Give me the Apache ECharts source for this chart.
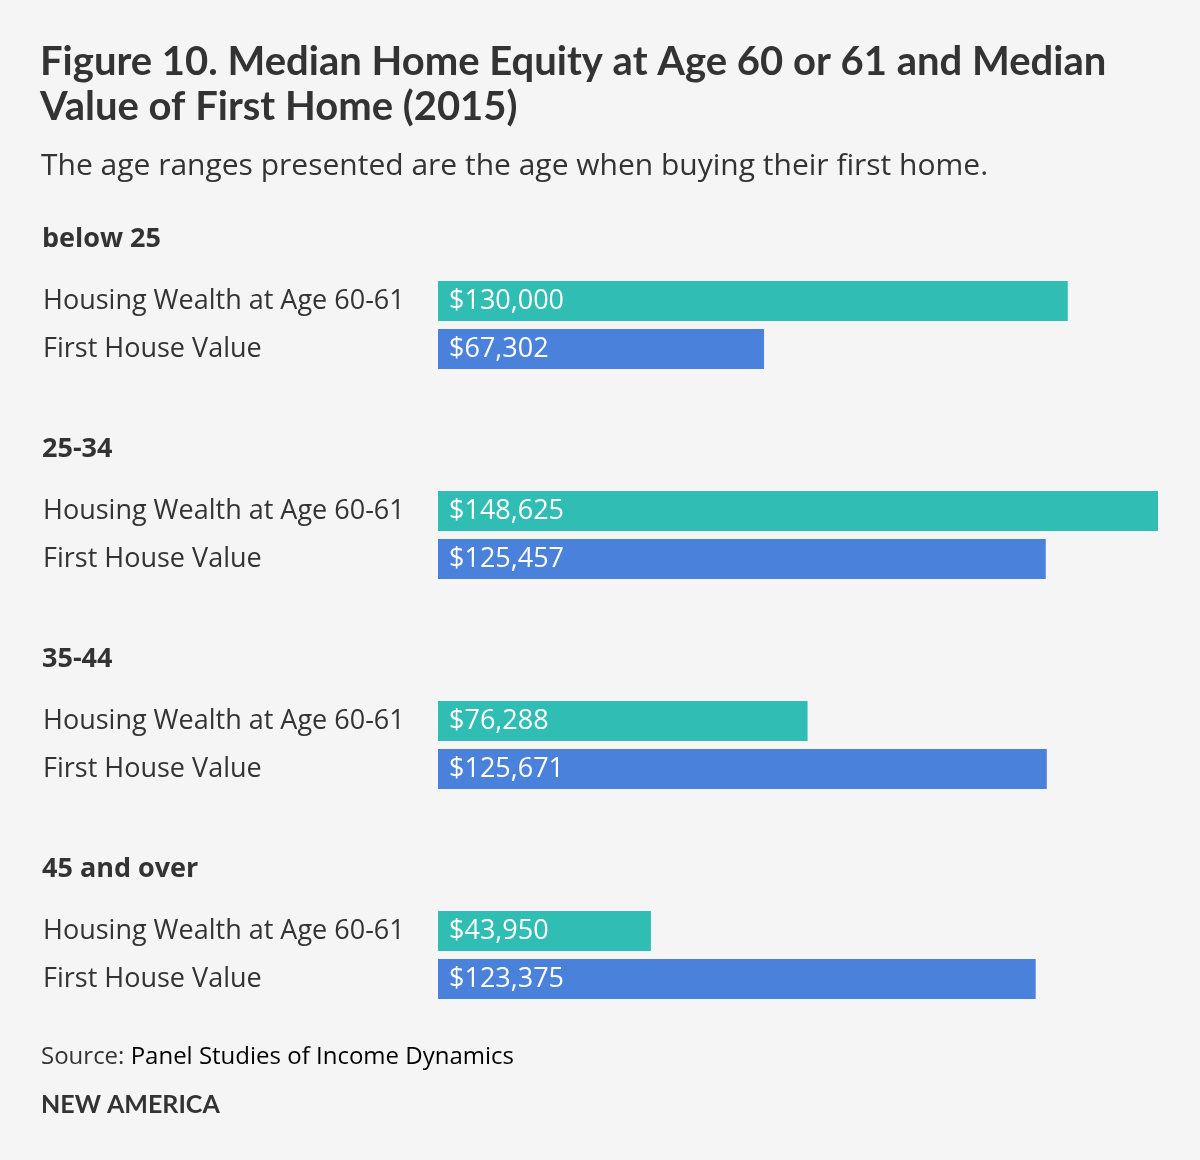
<!DOCTYPE html>
<html><head><meta charset="utf-8">
<script src="https://cdn.jsdelivr.net/npm/echarts@6/dist/echarts.min.js"></script>
<style>html,body{margin:0;padding:0;background:#f5f5f5}#c{width:1200px;height:1160px}</style>
</head><body><div id="c"></div>
<script>
const groups = ['below 25', '25-34', '35-44', '45 and over'];
const barNames = ['Housing Wealth at Age 60-61', 'First House Value'];
const housingWealth = [130000, 148625, 76288, 43950];
const firstHouseValue = [67302, 125457, 125671, 123375];
const maxValue = 148625;

const FONT = '"Open Sans", "Noto Sans", sans-serif';
const TFONT = 'Lato, "Open Sans", sans-serif';
const TEAL = '#2fbdb4';
const BLUE = '#4a81db';
const TXT = '#333333';

const grids = [], xAxes = [], yAxes = [], series = [], graphics = [];
groups.forEach((g, i) => {
  const top = 277 + i * 210;
  grids.push({left: 438, width: 720, top: top, height: 96});
  xAxes.push({type: 'value', gridIndex: i, min: 0, max: maxValue, show: false});
  yAxes.push({type: 'category', gridIndex: i, inverse: true, data: barNames,
    axisLine: {show: false}, axisTick: {show: false}, splitLine: {show: false},
    axisLabel: {align: 'left', margin: 395, fontSize: 27, color: TXT, fontFamily: FONT}});
  series.push({type: 'bar', xAxisIndex: i, yAxisIndex: i, barWidth: 40, silent: true,
    data: [
      {value: housingWealth[i], itemStyle: {color: TEAL}},
      {value: firstHouseValue[i], itemStyle: {color: BLUE}}
    ],
    label: {show: true, position: 'insideLeft', distance: 11, color: '#fff', fontSize: 27, fontFamily: FONT,
      formatter: p => '$' + p.value.toLocaleString('en-US')}
  });
  graphics.push({type: 'text', style: {x: 42, y: 239 + i * 210, text: g, font: 'bold 27px ' + FONT, fill: TXT, verticalAlign: 'middle'}});
});

graphics.push(
  {type: 'text', style: {x: 40, y: 62, text: 'Figure 10. Median Home Equity at Age 60 or 61 and Median', font: 'bold 40px ' + TFONT, fill: TXT, verticalAlign: 'middle'}},
  {type: 'text', style: {x: 40, y: 107, text: 'Value of First Home (2015)', font: 'bold 40px ' + TFONT, fill: TXT, verticalAlign: 'middle'}},
  {type: 'text', style: {x: 41, y: 166, text: 'The age ranges presented are the age when buying their first home.', font: '30px ' + FONT, fill: TXT, verticalAlign: 'middle'}},
  {type: 'text', style: {x: 41, y: 1057, verticalAlign: 'middle', rich: {a: {fontSize: 24, fontFamily: FONT, fill: TXT}, b: {fontSize: 24, fontFamily: FONT, fill: '#000'}}, text: '{a|Source: }{b|Panel Studies of Income Dynamics}'}},
  {type: 'text', style: {x: 41, y: 1105, text: 'NEW AMERICA', font: 'bold 25px ' + TFONT, fill: TXT, verticalAlign: 'middle'}}
);

const chart = echarts.init(document.getElementById('c'));
chart.setOption({
  backgroundColor: '#f5f5f5',
  animation: false,
  grid: grids, xAxis: xAxes, yAxis: yAxes, series: series, graphic: graphics
});
</script></body></html>
